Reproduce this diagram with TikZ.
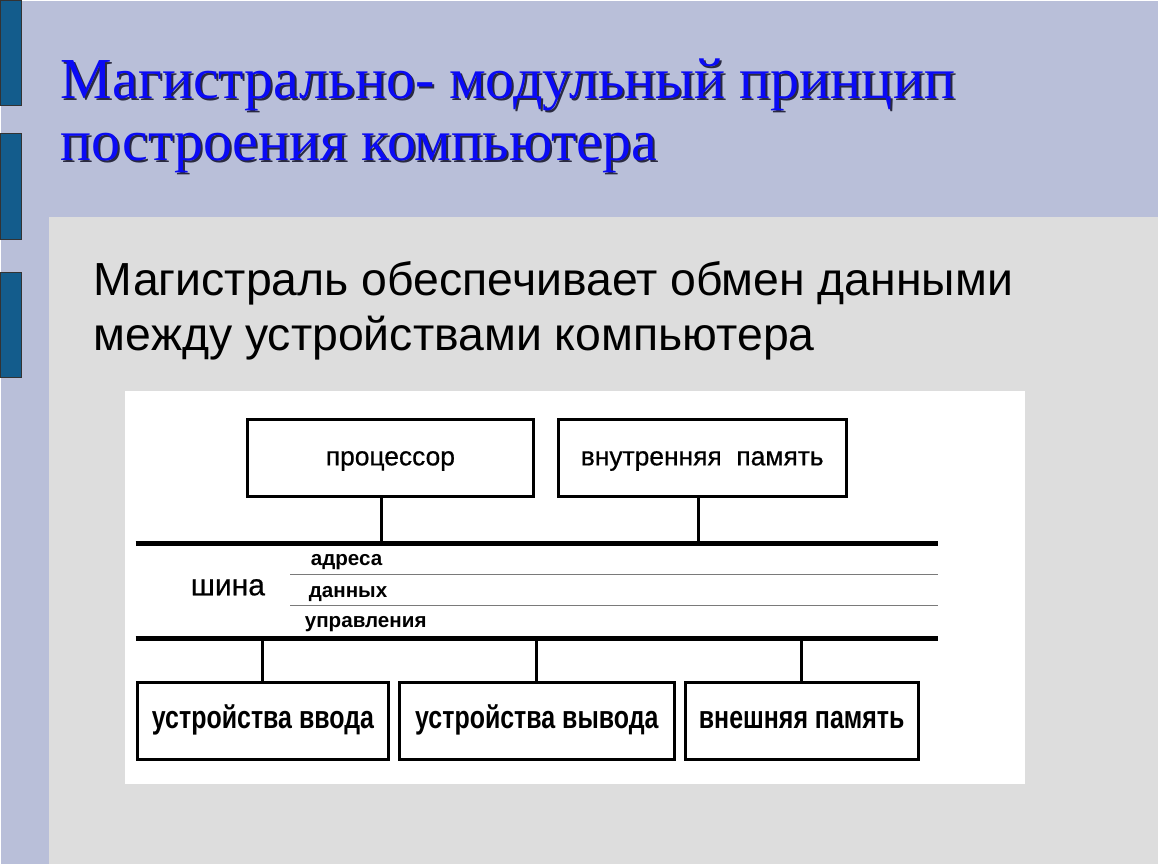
\documentclass[tikz,border=0pt]{standalone}
\usepackage{fontspec}
\setmainfont{Liberation Serif}
\setsansfont{Liberation Sans}
\newfontfamily\narrowbold[FakeStretch=0.78]{Liberation Sans Bold}
\newfontfamily\boxsans[FakeBold=0.6]{Liberation Sans}
\usetikzlibrary{positioning}
\definecolor{slidebg}{HTML}{B9BFD9}
\definecolor{panelgray}{HTML}{DDDDDD}
\definecolor{barblue}{HTML}{135C8C}
\definecolor{titleblue}{HTML}{0A0AF5}
\definecolor{titleshade}{HTML}{2A2A40}
\definecolor{thingray}{HTML}{7A7A7A}

\begin{document}
\begin{tikzpicture}[x=0.5pt,y=-0.5pt,
	txt/.style={inner sep=0pt, anchor=base west},
	titletext/.style={txt, font=\fontsize{29}{29}\selectfont},
	unitbox/.style={draw=black, line width=1.5pt, minimum height=38.5pt, inner sep=0pt, text depth=0pt},
	topunit/.style={unitbox, text height=7.5pt, font=\boxsans\fontsize{13.2}{13.2}\selectfont},
	lowunit/.style={unitbox, text height=8pt, font=\narrowbold\fontsize{16}{16}\selectfont},
	busline/.style={line width=2.5pt},
	tapline/.style={line width=1.5pt},
	subline/.style={draw=thingray, line width=0.75pt},
	sublabel/.style={txt, font=\sffamily\bfseries\fontsize{10.3}{10.3}\selectfont}
	]
	% slide background
	\fill[slidebg] (0,0) rectangle (1158,864);
	\fill[panelgray] (48,217) rectangle (1158,864);
	\foreach \ytop/\ybot in {0/105,133/239,272/377}
		\filldraw[fill=barblue, draw=black!80, line width=0.6pt] (0,\ytop) rectangle (21,\ybot);
	% title with shadow
	\node[titletext, text=titleshade] (title1s) at (62,100) {Магистрально- модульный принцип};
	\node[titletext, text=titleshade] (title2s) at (62,162) {построения компьютера};
	\node[titletext, text=titleblue] (title1) at (60,98) {Магистрально- модульный принцип};
	\node[titletext, text=titleblue] (title2) at (60,160) {построения компьютера};
	% body text
	\node[txt, font=\sffamily\fontsize{23.2}{23.2}\selectfont] (body1) at (93,295) {Магистраль обеспечивает обмен данными};
	\node[txt, font=\sffamily\fontsize{23.2}{23.2}\selectfont] (body2) at (93,350) {между устройствами компьютера};
	% diagram
	\fill[white] (124,391) rectangle (1025,784);
	\node[topunit, minimum width=143pt] (proc) at (390,457.5) {процессор};
	\node[topunit, minimum width=144pt] (mem) at (702,457.5) {внутренняя\ \ память};
	\node[lowunit, minimum width=125.5pt] (inp) at (262.5,720.5) {устройства ввода};
	\node[lowunit, minimum width=137.5pt] (outp) at (536.5,720.5) {устройства вывода};
	\node[lowunit, minimum width=116.5pt] (ext) at (801.5,720.5) {внешняя память};
	% bus
	\coordinate (topL) at (135,543);
	\coordinate (topR) at (938,543);
	\coordinate (botL) at (135,638);
	\coordinate (botR) at (938,638);
	\coordinate (addrL) at (290,574);
	\coordinate (dataL) at (290,605);
	\draw[busline] (topL) -- (topR);
	\draw[busline] (botL) -- (botR);
	\draw[subline] (addrL) -- (addrL -| topR);
	\draw[subline] (dataL) -- (dataL -| topR);
	\node[txt, font=\boxsans\fontsize{15}{15}\selectfont] (bus) at (190,595) {шина};
	\node[sublabel] (addr) at (310,565) {адреса};
	\node[sublabel] (data) at (308,597) {данных};
	\node[sublabel] (ctrl) at (304,627) {управления};
	% taps
	\draw[tapline] ([xshift=-4.5pt]proc.south) -- ([xshift=-4.5pt]proc.south |- topL);
	\draw[tapline] ([xshift=-2pt]mem.south) -- ([xshift=-2pt]mem.south |- topL);
	\foreach \unit in {inp,outp,ext}
		\draw[tapline] (\unit.north) -- (\unit.north |- botL);
\end{tikzpicture}
\end{document}
